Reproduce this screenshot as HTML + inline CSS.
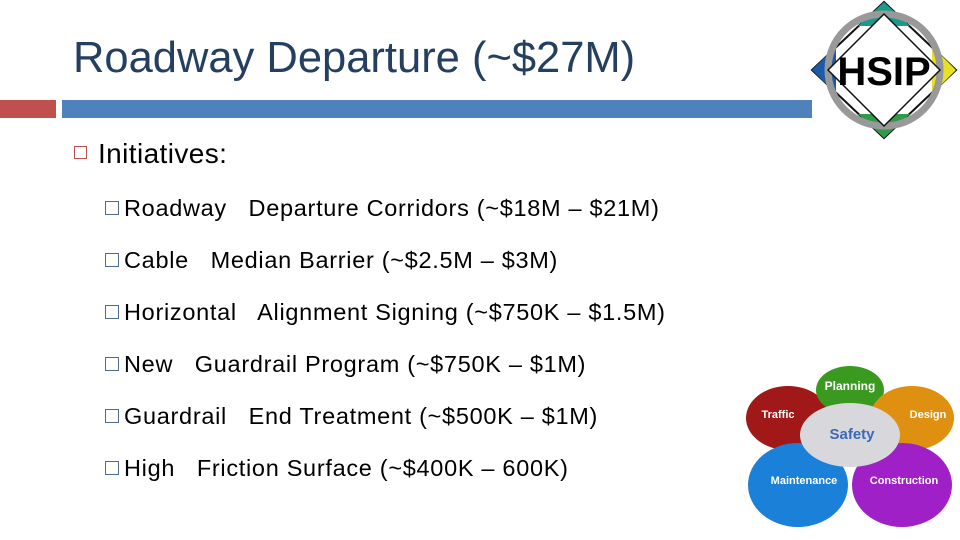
<!DOCTYPE html>
<html><head><meta charset="utf-8"><style>
body{margin:0;width:960px;height:540px;background:#fff;position:relative;overflow:hidden;font-family:"Liberation Sans",sans-serif}
.a{position:absolute;white-space:nowrap}
.sub{font-size:23.5px;letter-spacing:0.7px;color:#000;left:105px}
.sub span.b{display:inline-block;width:12px;height:12px;border:1px solid #4f6b8f;margin-right:5px;vertical-align:1px}
</style></head><body>
<div class="a" style="left:73px;top:34px;font-size:43.5px;color:#243f60">Roadway Departure (~$27M)</div>
<div class="a" style="left:0;top:100px;width:56px;height:18px;background:#c0504d"></div>
<div class="a" style="left:62px;top:100px;width:750px;height:18px;background:#4f81bd"></div>
<svg class="a" style="left:810px;top:0" width="150" height="140" viewBox="0 0 150 140">
<polygon points="74,2 146,70 74,138 2,70" fill="#fff" stroke="#111" stroke-width="2"/>
<polygon points="74,2 100,26 48,26" fill="#1a9a8a"/>
<polygon points="74,138 100,114 48,114" fill="#2e9a4a"/>
<polygon points="2,70 26,46 26,94" fill="#1f5aa8"/>
<polygon points="146,70 122,46 122,94" fill="#e8e020"/>
<circle cx="74" cy="70" r="56" fill="none" stroke="#999" stroke-width="7"/>
<polygon points="74,14 130,70 74,126 18,70" fill="#fff" stroke="#111" stroke-width="1.5"/>
<text x="74" y="85" text-anchor="middle" font-size="40" font-weight="bold" font-family="Liberation Sans,sans-serif">HSIP</text>
</svg>
<div class="a" style="left:74px;top:138px;font-size:28px;letter-spacing:0.4px"><span style="display:inline-block;width:11px;height:11px;border:1.5px solid #c0504d;margin-right:11px;vertical-align:4px"></span>Initiatives:</div>
<div class="a sub" style="top:195px"><span class="b"></span>Roadway&nbsp;&nbsp; Departure Corridors (~$18M – $21M)</div>
<div class="a sub" style="top:247px"><span class="b"></span>Cable&nbsp;&nbsp; Median Barrier (~$2.5M – $3M)</div>
<div class="a sub" style="top:299px"><span class="b"></span>Horizontal&nbsp;&nbsp; Alignment Signing (~$750K – $1.5M)</div>
<div class="a sub" style="top:351px"><span class="b"></span>New&nbsp;&nbsp; Guardrail Program (~$750K – $1M)</div>
<div class="a sub" style="top:403px"><span class="b"></span>Guardrail&nbsp;&nbsp; End Treatment (~$500K – $1M)</div>
<div class="a sub" style="top:455px"><span class="b"></span>High&nbsp;&nbsp; Friction Surface (~$400K – 600K)</div>
<svg class="a" style="left:740px;top:360px" width="220" height="180" viewBox="0 0 220 180" font-family="Liberation Sans,sans-serif" font-weight="bold">
<ellipse cx="48" cy="58" rx="42" ry="32" fill="#a01818"/>
<ellipse cx="110" cy="30" rx="34" ry="24" fill="#3a9a20"/>
<ellipse cx="172" cy="58" rx="42" ry="32" fill="#e09010"/>
<ellipse cx="58" cy="125" rx="50" ry="42" fill="#1a80d8"/>
<ellipse cx="162" cy="125" rx="50" ry="42" fill="#a020c8"/>
<ellipse cx="110" cy="75" rx="50" ry="32" fill="#d8d8dc"/>
<text x="110" y="30" text-anchor="middle" font-size="12" fill="#fff">Planning</text>
<text x="38" y="58" text-anchor="middle" font-size="11" fill="#fff">Traffic</text>
<text x="188" y="58" text-anchor="middle" font-size="11" fill="#fff">Design</text>
<text x="112" y="79" text-anchor="middle" font-size="15" fill="#3a6ab8">Safety</text>
<text x="64" y="124" text-anchor="middle" font-size="11" fill="#fff">Maintenance</text>
<text x="164" y="124" text-anchor="middle" font-size="11" fill="#fff">Construction</text>
</svg>
</body></html>
